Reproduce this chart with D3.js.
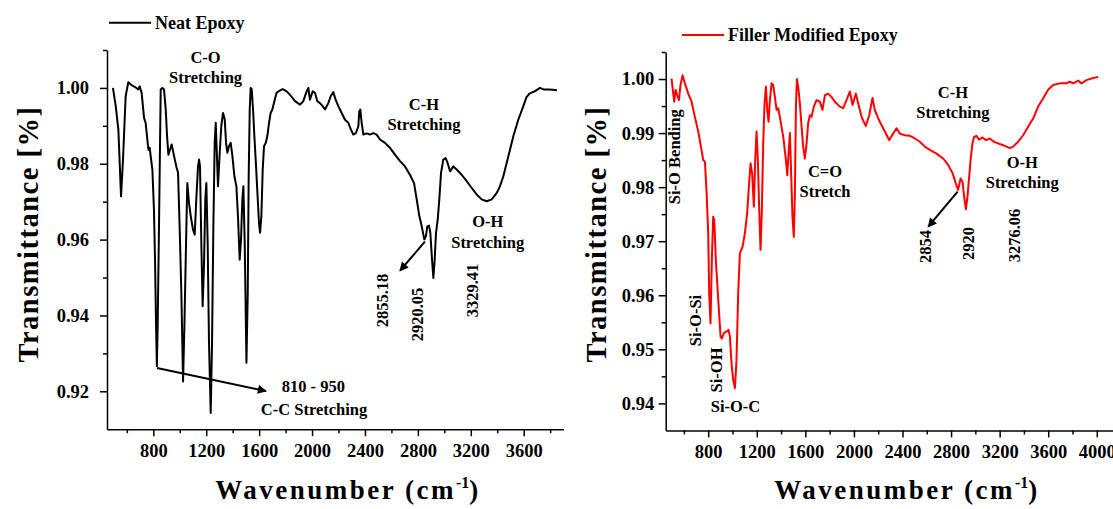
<!DOCTYPE html>
<html>
<head>
<meta charset="utf-8">
<script src="https://cdn.jsdelivr.net/npm/d3@7"></script>
<style>
  body { margin: 0; background: #fff; }
  svg text { font-family: "Liberation Serif", "Times New Roman", serif; font-weight: bold; fill: #000; }
</style>
</head>
<body>
<svg id="chart" width="1113" height="509"></svg>
<script>
// ---- FTIR spectrum: neat epoxy ----
const neatWavenumber = [
  495, 516, 536, 556, 571, 591, 611, 642, 672, 687, 697, 712, 730, 742, 763, 773, 780, 793, 805, 813,
  821, 827, 833, 843, 851, 856, 868, 881, 894, 904, 914, 926, 939, 957, 974, 987, 999, 1012, 1025, 1035,
  1045, 1057, 1070, 1083, 1100, 1113, 1125, 1138, 1146, 1153, 1163, 1173, 1183, 1193, 1201, 1211, 1221, 1234, 1244, 1254,
  1264, 1272, 1282, 1289, 1302, 1314, 1327, 1340, 1350, 1360, 1372, 1385, 1398, 1413, 1428, 1440, 1453, 1463, 1473, 1481,
  1491, 1504, 1514, 1521, 1529, 1536, 1544, 1554, 1564, 1574, 1587, 1599, 1607, 1617, 1627, 1637, 1650, 1662, 1675, 1687,
  1700, 1718, 1732, 1755, 1778, 1808, 1833, 1871, 1909, 1934, 1959, 1972, 1984, 2005, 2022, 2040, 2060, 2080, 2098, 2123,
  2141, 2161, 2178, 2199, 2224, 2249, 2274, 2294, 2312, 2332, 2350, 2357, 2365, 2375, 2388, 2413, 2438, 2463, 2488, 2514,
  2551, 2589, 2627, 2665, 2703, 2740, 2771, 2791, 2811, 2829, 2849, 2861, 2871, 2884, 2894, 2907, 2917, 2927, 2937, 2950,
  2962, 2975, 2992, 3010, 3025, 3043, 3068, 3093, 3131, 3169, 3207, 3244, 3282, 3320, 3358, 3396, 3421, 3446, 3484, 3522,
  3559, 3597, 3620, 3643, 3683, 3723, 3749, 3789, 3820, 3851
];
const neatTransmittance = [
  1.000, 0.9952, 0.989, 0.9714, 0.9811, 0.9978, 1.0015, 1.0006, 1.000, 0.9996, 1.0004, 0.9987, 0.9921, 0.9908, 0.9837, 0.9842, 0.982, 0.9785, 0.9679, 0.9547,
  0.9371, 0.9266, 0.9371, 0.9635, 0.9855, 0.9996, 1.000, 0.9996, 0.9943, 0.9873, 0.9824, 0.9837, 0.9851, 0.982, 0.9793, 0.9776, 0.9635, 0.9459, 0.9226, 0.9371,
  0.9547, 0.9749, 0.9696, 0.9662, 0.9626, 0.9613, 0.9706, 0.9793, 0.9811, 0.9793, 0.9591, 0.9424, 0.953, 0.9706, 0.9749, 0.9591, 0.9328, 0.9143, 0.9328, 0.9635,
  0.9855, 0.9908, 0.9811, 0.9741, 0.9829, 0.9899, 0.9934, 0.9917, 0.9855, 0.9829, 0.9846, 0.9855, 0.982, 0.9767, 0.9741, 0.9662, 0.9547, 0.96, 0.9706, 0.9741,
  0.9591, 0.9275, 0.9459, 0.9767, 0.9943, 1.000, 0.9996, 0.9943, 0.9873, 0.9811, 0.9723, 0.9644, 0.9618, 0.9662, 0.9785, 0.9846, 0.9855, 0.9873, 0.9908, 0.9934,
  0.9943, 0.9969, 0.9987, 0.9993, 0.9997, 0.9991, 0.9982, 0.9965, 0.9956, 0.9965, 0.9991, 1.000, 0.9969, 0.9991, 0.9987, 0.9965, 0.996, 0.9952, 0.9943, 0.996,
  0.9978, 0.9989, 0.9969, 0.9952, 0.9934, 0.9916, 0.9908, 0.989, 0.9877, 0.9881, 0.9899, 0.9938, 0.9943, 0.9908, 0.9877, 0.988, 0.9877, 0.9881, 0.9877, 0.9864,
  0.9855, 0.9842, 0.9824, 0.9807, 0.9793, 0.9771, 0.9749, 0.9706, 0.9662, 0.9635, 0.96, 0.9609, 0.9635, 0.9637, 0.9618, 0.9547, 0.9499, 0.9547, 0.9618, 0.9653,
  0.9706, 0.9776, 0.9811, 0.9815, 0.9802, 0.978, 0.9793, 0.9785, 0.9771, 0.9754, 0.9736, 0.9719, 0.9706, 0.9701, 0.9706, 0.9723, 0.9741, 0.9767, 0.982, 0.9873,
  0.9916, 0.9952, 0.9975, 0.9985, 0.9991, 1.000, 0.9996, 0.9996, 0.9995, 0.9994
];

// ---- FTIR spectrum: filler modified epoxy ----
const fillerWavenumber = [
  498, 512, 520, 531, 545, 559, 572, 589, 608, 636, 663, 690, 718, 745, 759, 773, 787, 800, 808, 819,
  830, 841, 850, 863, 883, 902, 913, 929, 951, 968, 979, 992, 1006, 1020, 1033, 1047, 1061, 1083, 1102, 1121,
  1135, 1149, 1162, 1176, 1187, 1198, 1209, 1220, 1231, 1242, 1253, 1264, 1275, 1286, 1297, 1308, 1322, 1335, 1349, 1363,
  1376, 1390, 1418, 1440, 1451, 1462, 1473, 1484, 1494, 1505, 1514, 1522, 1530, 1541, 1555, 1569, 1582, 1596, 1610, 1623,
  1637, 1651, 1670, 1692, 1720, 1741, 1761, 1788, 1815, 1843, 1884, 1912, 1939, 1967, 1989, 2016, 2035, 2063, 2098, 2126,
  2153, 2172, 2200, 2227, 2255, 2290, 2323, 2351, 2378, 2419, 2461, 2502, 2543, 2584, 2625, 2680, 2735, 2776, 2812, 2839,
  2858, 2878, 2894, 2908, 2922, 2935, 2949, 2963, 2976, 2990, 3009, 3031, 3059, 3086, 3119, 3152, 3188, 3223, 3256, 3284,
  3311, 3352, 3394, 3435, 3476, 3517, 3558, 3599, 3640, 3695, 3750, 3778, 3805, 3846, 3874, 3915, 3956, 4011
];
const fillerTransmittance = [
  1.0001, 0.9973, 0.9958, 0.998, 0.997, 0.9961, 0.9989, 1.0007, 0.9992, 0.9973, 0.9958, 0.993, 0.9903, 0.9869, 0.985, 0.9847, 0.9789, 0.9715, 0.9604, 0.9548,
  0.9665, 0.9745, 0.9739, 0.9665, 0.9591, 0.9523, 0.952, 0.953, 0.9533, 0.9536, 0.9523, 0.9474, 0.9443, 0.9428, 0.948, 0.9604, 0.9678, 0.969, 0.9715, 0.9752,
  0.9801, 0.9844, 0.9825, 0.9764, 0.985, 0.9903, 0.985, 0.9758, 0.9684, 0.9758, 0.9881, 0.9955, 0.9986, 0.9943, 0.9921, 0.9961, 0.9992, 0.9989, 0.9967, 0.9943,
  0.9946, 0.993, 0.9893, 0.985, 0.9822, 0.9863, 0.99, 0.9819, 0.9745, 0.9708, 0.9789, 0.9943, 1.000, 0.9986, 0.9955, 0.9912, 0.9875, 0.9853, 0.9881, 0.9918,
  0.9933, 0.993, 0.9949, 0.9961, 0.9958, 0.9943, 0.997, 0.9973, 0.9967, 0.9958, 0.9949, 0.9946, 0.9961, 0.9977, 0.9952, 0.9973, 0.9955, 0.993, 0.9913, 0.9933,
  0.9965, 0.9943, 0.9927, 0.9915, 0.9903, 0.9887, 0.9899, 0.9909, 0.9899, 0.9896, 0.9895, 0.989, 0.9884, 0.9875, 0.9869, 0.9862, 0.9853, 0.9841, 0.9826, 0.9807,
  0.9795, 0.9816, 0.981, 0.9782, 0.9759, 0.9782, 0.9819, 0.9856, 0.9881, 0.9893, 0.9895, 0.9888, 0.9892, 0.9887, 0.989, 0.9884, 0.9881, 0.9878, 0.9875, 0.9872,
  0.9875, 0.9884, 0.9896, 0.9912, 0.9927, 0.9949, 0.9964, 0.998, 0.9989, 0.9992, 0.9992, 0.9995, 0.9992, 0.9997, 0.9992, 0.9998, 1.0001, 1.0004
];

// ---- axis ticks ----
const neatXTicks = [800, 1200, 1600, 2000, 2400, 2800, 3200, 3600];
const neatXMinor = [600, 1000, 1400, 1800, 2200, 2600, 3000, 3400, 3800];
const neatYTicks = [0.92, 0.94, 0.96, 0.98, 1.00];
const neatYMinor = [0.93, 0.95, 0.97, 0.99, 1.01];
const fillerXTicks = [800, 1200, 1600, 2000, 2400, 2800, 3200, 3600, 4000];
const fillerXMinor = [600, 1000, 1400, 1800, 2200, 2600, 3000, 3400, 3800];
const fillerYTicks = [0.94, 0.95, 0.96, 0.97, 0.98, 0.99, 1.00];
const fillerYMinor = [0.945, 0.955, 0.965, 0.975, 0.985, 0.995, 1.005];

// ---- band assignments (anchored at wavenumber / transmittance) ----
const neatBandLabels = [
  { text: "C-O", wn: 1195, t: 1.0066 },
  { text: "Stretching", wn: 1195, t: 1.0014 },
  { text: "C-H", wn: 2846, t: 0.99418 },
  { text: "Stretching", wn: 2846, t: 0.9889 },
  { text: "O-H", wn: 3328, t: 0.9634 },
  { text: "Stretching", wn: 3328, t: 0.9578 },
  { text: "810 - 950", wn: 2010, t: 0.91989 },
  { text: "C-C Stretching", wn: 2015, t: 0.91375 }
];
const neatPeakLabels = [
  { text: "2855.18", wn: 2574, t: 0.94394 },
  { text: "2920.05", wn: 2839, t: 0.94025 },
  { text: "3329.41", wn: 3254, t: 0.94658 }
];
const neatArrows = [
  { from: [828, 0.92614], to: [1652, 0.92007] },
  { from: [2853, 0.95945], to: [2665, 0.9518] }
];

const fillerBandLabels = [
  { text: "Si-O-C", wn: 1025, t: 0.93846 },
  { text: "C=O", wn: 1762, t: 0.98179 },
  { text: "Stretch", wn: 1762, t: 0.97823 },
  { text: "C-H", wn: 2815, t: 0.99644 },
  { text: "Stretching", wn: 2815, t: 0.99274 },
  { text: "O-H", wn: 3386, t: 0.98349 },
  { text: "Stretching", wn: 3386, t: 0.97979 }
];
const fillerPeakLabels = [
  { text: "Si-O Bending", wn: 568, t: 0.98563 },
  { text: "Si-O-Si", wn: 741, t: 0.95533 },
  { text: "Si-OH", wn: 913, t: 0.94618 },
  { text: "2854", wn: 2634, t: 0.96902 },
  { text: "2920", wn: 2988, t: 0.96958 },
  { text: "3276.06", wn: 3367, t: 0.97106 }
];
const fillerArrows = [
  { from: [2854, 0.97916], to: [2612, 0.97268] }
];

const svg = d3.select("#chart");

svg.append("defs").append("marker")
  .attr("id", "arrowhead")
  .attr("viewBox", "0 0 10 10")
  .attr("refX", 9).attr("refY", 5)
  .attr("markerUnits", "userSpaceOnUse")
  .attr("markerWidth", 11).attr("markerHeight", 9)
  .attr("orient", "auto")
  .append("path").attr("d", "M0,0 L10,5 L0,10 Z").attr("fill", "#000");

const tickFont = 18.5;

function styleAxis(sel) {
  sel.attr("font-family", null).attr("font-size", tickFont);
  sel.selectAll("path, line").attr("stroke", "#000").attr("stroke-width", 1.5);
  sel.selectAll("text").attr("fill", "#000");
}

function drawPanel(p) {
  const x = d3.scaleLinear().domain(p.xDomain).range([p.left, p.right]);
  const y = d3.scaleLinear().domain(p.yDomain).range([p.bottom, p.top]);
  const g = svg.append("g");

  // x axis: minor then major ticks
  g.append("g").attr("transform", `translate(0,${p.bottom})`)
    .call(d3.axisBottom(x).tickValues(p.xMinor).tickSize(4).tickSizeOuter(0).tickFormat(""))
    .call(styleAxis);
  g.append("g").attr("transform", `translate(0,${p.bottom})`)
    .call(d3.axisBottom(x).tickValues(p.xTicks).tickSize(7).tickSizeOuter(0).tickPadding(7.5).tickFormat(d3.format("d")))
    .call(styleAxis)
    .call(s => s.select(".domain").remove());

  // y axis
  g.append("g").attr("transform", `translate(${p.left},0)`)
    .call(d3.axisLeft(y).tickValues(p.yMinor).tickSize(4).tickSizeOuter(0).tickFormat(""))
    .call(styleAxis);
  g.append("g").attr("transform", `translate(${p.left},0)`)
    .call(d3.axisLeft(y).tickValues(p.yTicks).tickSize(7).tickSizeOuter(0).tickPadding(p.yPad).tickFormat(d3.format(".2f")))
    .call(styleAxis)
    .call(s => s.select(".domain").remove());

  // spectrum
  const line = d3.line().x(d => x(d[0])).y(d => y(d[1]));
  g.append("path")
    .datum(d3.zip(p.wn, p.t))
    .attr("fill", "none")
    .attr("stroke", p.color)
    .attr("stroke-width", 2)
    .attr("stroke-linejoin", "round")
    .attr("d", line);

  // legend
  g.append("line")
    .attr("x1", p.legend.x).attr("x2", p.legend.x + 42)
    .attr("y1", p.legend.y).attr("y2", p.legend.y)
    .attr("stroke", p.color).attr("stroke-width", 2);
  g.append("text")
    .attr("x", p.legend.x + 46).attr("y", p.legend.y + 6.3)
    .attr("font-size", 18)
    .text(p.name);

  // band labels
  g.selectAll("text.band").data(p.bands).join("text")
    .attr("class", "band")
    .attr("x", d => x(d.wn)).attr("y", d => y(d.t))
    .attr("text-anchor", "middle")
    .attr("font-size", 16.5)
    .text(d => d.text);

  // rotated peak labels
  g.selectAll("text.peak").data(p.peaks).join("text")
    .attr("class", "peak")
    .attr("text-anchor", "middle")
    .attr("font-size", 16.5)
    .attr("transform", d => `translate(${x(d.wn)},${y(d.t)}) rotate(-90)`)
    .text(d => d.text);

  // arrows
  g.selectAll("line.arrow").data(p.arrows).join("line")
    .attr("class", "arrow")
    .attr("x1", d => x(d.from[0])).attr("y1", d => y(d.from[1]))
    .attr("x2", d => x(d.to[0])).attr("y2", d => y(d.to[1]))
    .attr("stroke", "#000").attr("stroke-width", 2)
    .attr("marker-end", "url(#arrowhead)");

  // axis titles
  const xt = g.append("text")
    .attr("x", p.xTitleX).attr("y", 499)
    .attr("text-anchor", "middle")
    .attr("font-size", 27)
    .attr("letter-spacing", 2.5);
  xt.append("tspan").text("Wavenumber (cm");
  xt.append("tspan").attr("dy", -11).attr("font-size", 16).attr("letter-spacing", 0).text("-1");
  xt.append("tspan").attr("dy", 11).text(")");

  g.append("text")
    .attr("transform", `translate(${p.yTitleX},234) rotate(-90)`)
    .attr("text-anchor", "middle")
    .attr("font-size", 28.5)
    .attr("letter-spacing", 1.5)
    .text("Transmittance [%]");
}

drawPanel({
  name: "Neat Epoxy", color: "#000",
  wn: neatWavenumber, t: neatTransmittance,
  xDomain: [450, 3900], yDomain: [0.91, 1.01],
  left: 107, right: 563.4, top: 50, bottom: 429.2,
  xTicks: neatXTicks, xMinor: neatXMinor, yTicks: neatYTicks, yMinor: neatYMinor,
  yPad: 11,
  legend: { x: 109, y: 22.7 },
  bands: neatBandLabels, peaks: neatPeakLabels, arrows: neatArrows,
  xTitleX: 348, yTitleX: 38
});

drawPanel({
  name: "Filler Modified Epoxy", color: "#ff0000",
  wn: fillerWavenumber, t: fillerTransmittance,
  xDomain: [450, 4150], yDomain: [0.935, 1.005],
  left: 665.7, right: 1115, top: 52, bottom: 430.4,
  xTicks: fillerXTicks, xMinor: fillerXMinor, yTicks: fillerYTicks, yMinor: fillerYMinor,
  yPad: 4.5,
  legend: { x: 682, y: 35 },
  bands: fillerBandLabels, peaks: fillerPeakLabels, arrows: fillerArrows,
  xTitleX: 907, yTitleX: 606
});
</script>
</body>
</html>
